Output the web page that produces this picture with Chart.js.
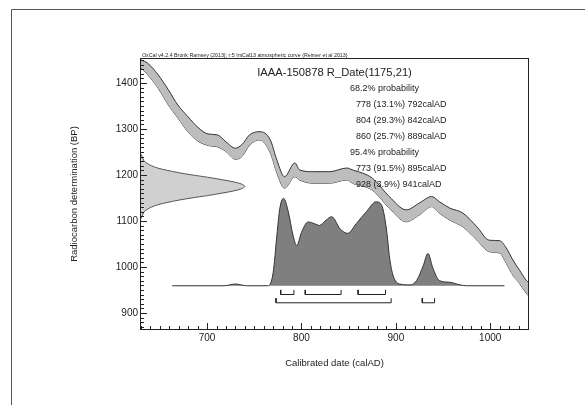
<!DOCTYPE html>
<html>
<head>
<meta charset="utf-8">
<script src="https://cdn.jsdelivr.net/npm/chart.js@4.4.0/dist/chart.umd.min.js"></script>
<style>
html, body { margin: 0; padding: 0; background: #fff; }
</style>
</head>
<body>
<canvas id="calChart" width="585" height="405"></canvas>
<script>
// --- data ---

// calibration curve band (upper / lower edge, BP)
const curveYears = [630, 637, 648, 659, 669, 680, 690, 701, 711, 720, 730, 737, 745, 756, 767, 774, 782, 793, 798, 812, 830, 848, 854, 875, 893, 911, 925, 938, 946, 957, 971, 986, 999, 1010, 1017, 1024, 1031, 1038, 1040];
const curveUpper = [1450, 1443, 1418, 1385, 1352, 1326, 1304, 1289, 1287, 1272, 1258, 1266, 1287, 1294, 1276, 1232, 1196, 1226, 1211, 1207, 1207, 1215, 1211, 1193, 1153, 1124, 1139, 1153, 1142, 1128, 1117, 1087, 1058, 1057, 1041, 1015, 993, 971, 967];
const curveLower = [1433, 1418, 1389, 1352, 1324, 1293, 1274, 1264, 1261, 1251, 1234, 1240, 1265, 1276, 1248, 1204, 1171, 1196, 1189, 1182, 1182, 1189, 1182, 1167, 1128, 1098, 1113, 1131, 1117, 1102, 1087, 1058, 1033, 1030, 1008, 982, 964, 943, 938];

// radiocarbon measurement (drawn sideways on the BP axis), relative density
const dateBP = [1105, 1110, 1115, 1120, 1125, 1130, 1135, 1140, 1145, 1150, 1155, 1160, 1165, 1170, 1175, 1180, 1185, 1190, 1195, 1200, 1205, 1210, 1215, 1220, 1225, 1230, 1235, 1240, 1245];
const dateDensity = [0, 0.01, 0.02, 0.03, 0.06, 0.10, 0.16, 0.25, 0.36, 0.49, 0.64, 0.77, 0.89, 0.97, 1.00, 0.97, 0.89, 0.77, 0.64, 0.49, 0.36, 0.25, 0.16, 0.10, 0.06, 0.03, 0.02, 0.01, 0];

// calibrated probability, relative to the highest point
const postYears = [663, 718, 724, 730, 736, 742, 765, 770, 774, 777, 781, 786, 791, 795, 800, 807, 814, 819, 826, 832, 841, 849, 858, 869, 879, 885, 890, 893.5, 897, 904, 915, 922, 929, 934, 939, 946, 957, 968, 975, 1015];
const postProb = [0, 0, 0.01, 0.02, 0.01, 0, 0, 0.15, 0.58, 0.88, 1.0, 0.85, 0.58, 0.46, 0.61, 0.73, 0.71, 0.69, 0.75, 0.79, 0.65, 0.60, 0.71, 0.85, 0.96, 0.92, 0.65, 0.31, 0.12, 0.02, 0.01, 0.06, 0.23, 0.37, 0.21, 0.06, 0.04, 0.01, 0, 0];

// highest probability density ranges
const range68Start = [778, 804, 860];
const range68End = [792, 842, 889];
const range95Start = [773, 928];
const range95End = [895, 941];

// tick labels
const xLabelYears = [700, 800, 900, 1000];
const yLabelBP = [900, 1000, 1100, 1200, 1300, 1400];

// texts
const headerText = 'OxCal v4.2.4 Bronk Ramsey (2013); r:5 IntCal13 atmospheric curve (Reimer et al 2013)';
const sampleTitle = 'IAAA-150878 R_Date(1175,21)';
const probLines = [
    ['68.2% probability', 0],
    ['778 (13.1%) 792calAD', 1],
    ['804 (29.3%) 842calAD', 1],
    ['860 (25.7%) 889calAD', 1],
    ['95.4% probability', 0],
    ['773 (91.5%) 895calAD', 1],
    ['928 (3.9%) 941calAD', 1]
];

// --- drawing setup ---
const FONT = "'Liberation Sans', Arial, sans-serif";
const X_MIN = 630, X_MAX = 1040, Y_MIN = 865, Y_MAX = 1452;
const POST_BASE = 959;      // BP level of the probability baseline
const POST_HEIGHT = 190;    // BP span used for probability 1
const DATE_WIDTH = 110;     // years span used for density 1
const BR68 = 940, BR95 = 922, BR_TICK = 10;

function bracketData(starts, ends, level) {
    const pts = [];
    starts.forEach((s, i) => {
        pts.push({ x: s, y: level + BR_TICK }, { x: s, y: level }, { x: ends[i], y: level }, { x: ends[i], y: level + BR_TICK });
        pts.push({ x: ends[i], y: null });
    });
    return pts;
}

const upperPts = curveYears.map((yr, i) => ({ x: yr, y: curveUpper[i] }));
const lowerPts = curveYears.map((yr, i) => ({ x: yr, y: curveLower[i] }));
const datePts = dateBP.map((bp, i) => ({ x: X_MIN + dateDensity[i] * DATE_WIDTH, y: bp }));
const postPts = postYears.map((yr, i) => ({ x: yr, y: POST_BASE + postProb[i] * POST_HEIGHT }));

const decorations = {
    id: 'decorations',
    beforeDraw(chart) {
        const ctx = chart.ctx;
        ctx.save();
        ctx.strokeStyle = '#555';
        ctx.lineWidth = 1;
        ctx.beginPath();
        ctx.moveTo(11.5, chart.height);
        ctx.lineTo(11.5, 9.5);
        ctx.lineTo(chart.width, 9.5);
        ctx.stroke();
        ctx.restore();
    },
    afterDatasetsDraw(chart) {
        const { ctx, chartArea: a, scales: { x, y } } = chart;
        ctx.save();
        ctx.strokeStyle = '#222';
        ctx.lineWidth = 1;
        ctx.strokeRect(a.left - 0.5, a.top - 0.5, a.right - a.left + 1, a.bottom - a.top + 1);

        // inward tick marks, every 10, longer every 100
        ctx.beginPath();
        for (let v = Math.ceil(x.min / 10) * 10; v <= x.max; v += 10) {
            const px = Math.round(x.getPixelForValue(v)) + 0.5;
            const len = v % 100 === 0 ? 6 : 3;
            ctx.moveTo(px, a.bottom);
            ctx.lineTo(px, a.bottom - len);
        }
        for (let v = Math.ceil(y.min / 10) * 10; v <= y.max; v += 10) {
            const py = Math.round(y.getPixelForValue(v)) + 0.5;
            const len = v % 100 === 0 ? 6 : 3;
            ctx.moveTo(a.left, py);
            ctx.lineTo(a.left + len, py);
        }
        ctx.stroke();

        // header above the plot
        ctx.fillStyle = '#222';
        ctx.font = '5.3px ' + FONT;
        ctx.textBaseline = 'alphabetic';
        ctx.textAlign = 'left';
        ctx.fillText(headerText, a.left + 1, a.top - 2);

        // sample name and ranges
        ctx.font = '11.2px ' + FONT;
        ctx.textAlign = 'center';
        ctx.textBaseline = 'middle';
        ctx.fillText(sampleTitle, (a.left + a.right) / 2, 73);

        ctx.font = '9px ' + FONT;
        ctx.textAlign = 'left';
        probLines.forEach(([txt, indent], i) => {
            ctx.fillText(txt, indent ? 356 : 350, 88.5 + i * 16);
        });
        ctx.restore();
    }
};

new Chart(document.getElementById('calChart'), {
    type: 'line',
    data: {
        datasets: [
            {
                data: upperPts,
                borderColor: '#333',
                borderWidth: 1,
                backgroundColor: '#bdbdbd',
                fill: '+1',
                pointRadius: 0,
                cubicInterpolationMode: 'monotone'
            },
            {
                data: lowerPts,
                borderColor: '#333',
                borderWidth: 1,
                fill: false,
                pointRadius: 0,
                cubicInterpolationMode: 'monotone'
            },
            {
                data: postPts,
                borderColor: '#333',
                borderWidth: 1,
                backgroundColor: '#7f7f7f',
                fill: { value: POST_BASE },
                pointRadius: 0,
                cubicInterpolationMode: 'monotone'
            },
            {
                data: datePts,
                borderColor: '#555',
                borderWidth: 1,
                backgroundColor: '#d0d0d0',
                fill: 'shape',
                pointRadius: 0,
                tension: 0.3
            },
            {
                data: bracketData(range68Start, range68End, BR68),
                borderColor: '#222',
                borderWidth: 1,
                fill: false,
                pointRadius: 0,
                spanGaps: false,
                tension: 0
            },
            {
                data: bracketData(range95Start, range95End, BR95),
                borderColor: '#222',
                borderWidth: 1,
                fill: false,
                pointRadius: 0,
                spanGaps: false,
                tension: 0
            }
        ]
    },
    options: {
        responsive: false,
        animation: false,
        events: [],
        layout: { padding: { left: 60, top: 59, right: 57, bottom: 36 } },
        plugins: {
            legend: { display: false },
            tooltip: { enabled: false }
        },
        scales: {
            x: {
                type: 'linear',
                min: X_MIN,
                max: X_MAX,
                grid: { display: false, drawTicks: false },
                border: { display: false },
                ticks: {
                    stepSize: 10,
                    autoSkip: false,
                    maxRotation: 0,
                    padding: 3,
                    color: '#222',
                    font: { family: FONT, size: 10 },
                    callback: v => xLabelYears.includes(v) ? String(v) : ''
                },
                title: {
                    display: true,
                    text: 'Calibrated date (calAD)',
                    color: '#222',
                    font: { family: FONT, size: 9.5 },
                    padding: { top: 0, bottom: 0 }
                },
                afterFit: s => { s.height = 40; }
            },
            y: {
                type: 'linear',
                min: Y_MIN,
                max: Y_MAX,
                grid: { display: false, drawTicks: false },
                border: { display: false },
                ticks: {
                    stepSize: 10,
                    autoSkip: false,
                    padding: 3,
                    color: '#222',
                    font: { family: FONT, size: 10 },
                    callback: v => yLabelBP.includes(v) ? String(v) : ''
                },
                title: {
                    display: true,
                    text: 'Radiocarbon determination (BP)',
                    color: '#222',
                    font: { family: FONT, size: 9.5 },
                    padding: { top: 9, bottom: 0 }
                },
                afterFit: s => { s.width = 81; }
            }
        }
    },
    plugins: [decorations]
});
</script>
</body>
</html>
